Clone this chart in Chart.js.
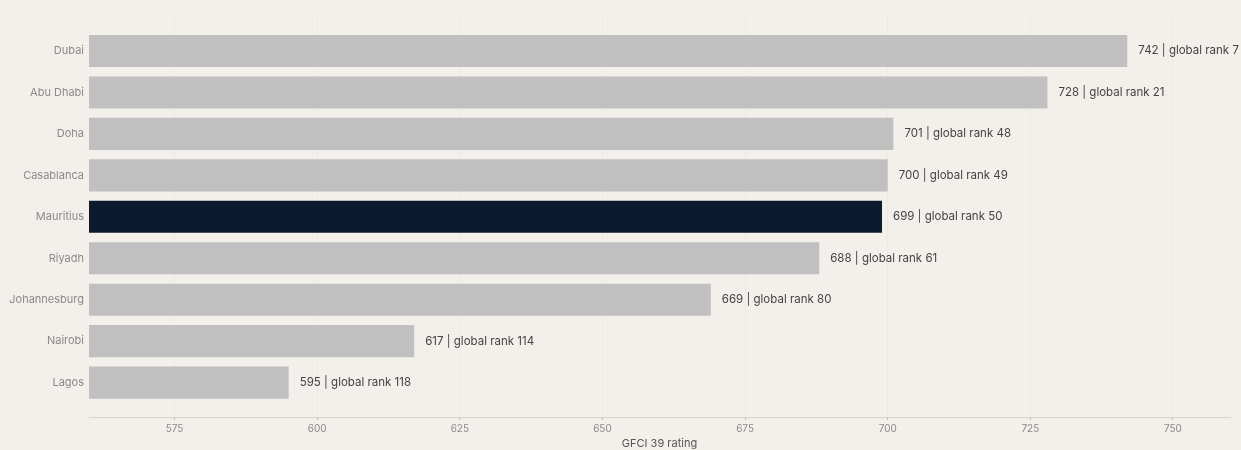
<!DOCTYPE html>
<html>
<head>
<meta charset="utf-8">
<title>GFCI 39 ratings</title>
<script src="https://cdn.jsdelivr.net/npm/chart.js@4/dist/chart.umd.min.js"></script>
<style>
  html, body { margin: 0; padding: 0; background: #f3f0eb; }
  #wrap { width: 1241px; height: 450px; }
</style>
</head>
<body>
<div id="wrap"><canvas id="chart"></canvas></div>
<script>
const cities = ['Dubai', 'Abu Dhabi', 'Doha', 'Casablanca', 'Mauritius', 'Riyadh', 'Johannesburg', 'Nairobi', 'Lagos'];
const ratings = [742, 728, 701, 700, 699, 688, 669, 617, 595];
const globalRanks = [7, 21, 48, 49, 50, 61, 80, 114, 118];
const xTicks = [575, 600, 625, 650, 675, 700, 725, 750];
const highlight = 'Mauritius';

const font = 'Inter, "Noto Sans", sans-serif';

// "742 | global rank 7" next to the end of each bar
const valueLabels = {
  id: 'valueLabels',
  afterDatasetsDraw(chart) {
    const ctx = chart.ctx;
    const meta = chart.getDatasetMeta(0);
    ctx.save();
    ctx.font = '11.5px ' + font;
    ctx.fillStyle = '#444';
    ctx.textBaseline = 'middle';
    ctx.textAlign = 'left';
    meta.data.forEach((bar, i) => {
      ctx.fillText(ratings[i] + ' | global rank ' + globalRanks[i], bar.x + 11, bar.y);
    });
    ctx.restore();
  }
};

new Chart(document.getElementById('chart'), {
  type: 'bar',
  data: {
    datasets: [{
      label: 'GFCI 39 rating',
      data: ratings.map((r, i) => ({ x: r, y: i })),
      backgroundColor: cities.map(c => c === highlight ? '#0b1a2f' : '#c0c0c0'),
      borderWidth: 0,
      barPercentage: 0.775,
      categoryPercentage: 1
    }]
  },
  options: {
    indexAxis: 'y',
    responsive: true,
    maintainAspectRatio: false,
    animation: false,
    layout: { padding: { top: 16, right: 11, left: 0, bottom: 0 } },
    plugins: {
      legend: { display: false },
      tooltip: { enabled: false }
    },
    scales: {
      x: {
        type: 'linear',
        min: 560,
        max: 760,
        z: 1,
        afterBuildTicks: s => { s.ticks = xTicks.map(v => ({ value: v })); },
        afterFit: s => { s.height = 33; },
        grid: {
          color: 'rgba(225, 221, 215, 0.35)',
          lineWidth: 1,
          drawTicks: true,
          tickLength: 3,
          tickColor: '#bdbab5'
        },
        border: { display: true, color: '#d8d5d0', width: 1 },
        ticks: {
          color: '#8a8a8a',
          font: { family: font, size: 10 },
          padding: 3
        },
        title: {
          display: true,
          text: 'GFCI 39 rating',
          color: '#555',
          font: { family: font, size: 11 },
          padding: { top: 0, bottom: 0 }
        }
      },
      y: {
        type: 'linear',
        reverse: true,
        offset: false,
        min: -0.845,
        max: 8.83,
        afterBuildTicks: s => { s.ticks = cities.map((_, i) => ({ value: i })); },
        afterFit: s => { s.width = 89; },
        grid: { display: false, drawTicks: false, offset: false },
        border: { display: false },
        ticks: {
          color: '#8a8a8a',
          font: { family: font, size: 11 },
          padding: 5,
          callback: v => cities[v]
        }
      }
    }
  },
  plugins: [valueLabels]
});
</script>
</body>
</html>
